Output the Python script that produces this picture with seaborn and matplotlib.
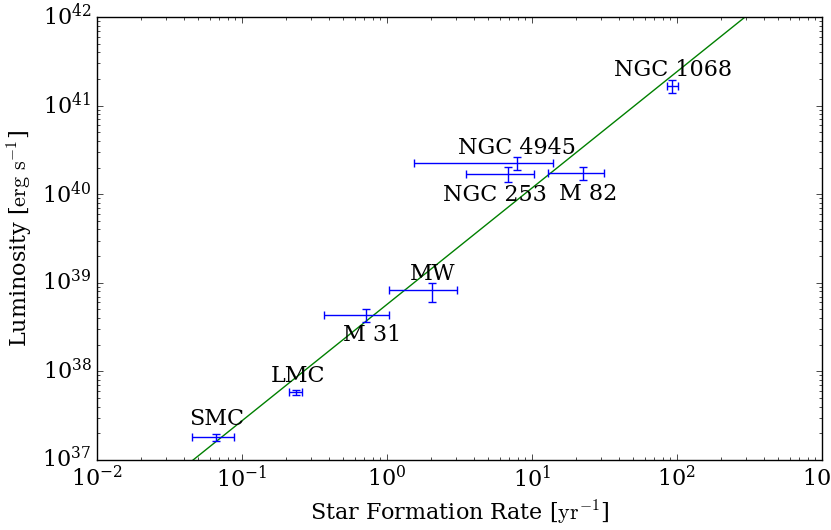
import numpy as np
import pandas as pd
import matplotlib
matplotlib.use("Agg")
import matplotlib.pyplot as plt
import seaborn as sns

# Data
names = ["SMC", "LMC", "M 31", "MW", "NGC 4945", "NGC 253", "M 82", "NGC 1068"]
sfr = [0.066, 0.236, 0.72, 2.04, 7.9, 6.8, 22.5, 92.0]
sfr_lo = [0.045, 0.21, 0.37, 1.03, 1.53, 3.5, 12.9, 85.0]
sfr_hi = [0.088, 0.26, 1.03, 3.04, 14.0, 10.3, 31.4, 101.0]
lum = [1.8e37, 5.8e37, 4.3e38, 8.3e38, 2.25e40, 1.69e40, 1.74e40, 1.66e41]
lum_lo = [1.65e37, 5.4e37, 3.65e38, 6.0e38, 1.86e40, 1.37e40, 1.45e40, 1.38e41]
lum_hi = [1.95e37, 6.2e37, 5.0e38, 1.0e39, 2.63e40, 2.03e40, 2.04e40, 1.95e41]

# label anchor positions (data coords)
label_x = [0.0673, 0.243, 0.789, 2.07, 7.88, 5.56, 24.3, 93.8]
label_y = [2.87e37, 8.9e37, 2.55e38, 1.26e39, 3.33e40, 0.97e40, 1.0e40, 2.55e41]

# Fit line: L = norm * SFR^slope
fit_norm = 5.7e38
fit_slope = 1.313
fit_sfr = [1e-3, 1e4]

sns.set_style("ticks")
plt.style.use("classic")
plt.rcParams["font.family"] = ["DejaVu Serif"]
plt.rcParams["mathtext.fontset"] = "cm"
plt.rcParams["font.size"] = 16

fig = plt.figure(figsize=(8.31, 5.30), dpi=100, facecolor="white")
ax = fig.add_axes([0.1167, 0.132, 0.8723, 0.836])
ax.set_facecolor("white")

fit_df = pd.DataFrame({"x": fit_sfr,
                       "y": [fit_norm * v ** fit_slope for v in fit_sfr]})
sns.lineplot(data=fit_df, x="x", y="y", color="green", lw=1.0, ax=ax,
             legend=False)

x = np.array(sfr); y = np.array(lum)
xerr = [x - np.array(sfr_lo), np.array(sfr_hi) - x]
yerr = [y - np.array(lum_lo), np.array(lum_hi) - y]
ax.errorbar(x, y, xerr=xerr, yerr=yerr, fmt="none", ecolor="blue",
            elinewidth=1.0, capsize=3, capthick=1.0)

ax.set_xscale("log")
ax.set_yscale("log")
ax.set_xlim(1e-2, 1e3)
ax.set_ylim(1e37, 1e42)

for n, lx, ly in zip(names, label_x, label_y):
    ax.text(lx, ly, n, ha="center", va="center", fontsize=16)

ax.set_xlabel(r"Star Formation Rate [$\mathrm{yr}^{-1}$]", fontsize=16)
ax.set_ylabel(r"Luminosity [$\mathrm{erg\ s}^{-1}$]", fontsize=16)
ax.tick_params(labelsize=16)

fig.savefig("out.png", dpi=100, facecolor="white")
